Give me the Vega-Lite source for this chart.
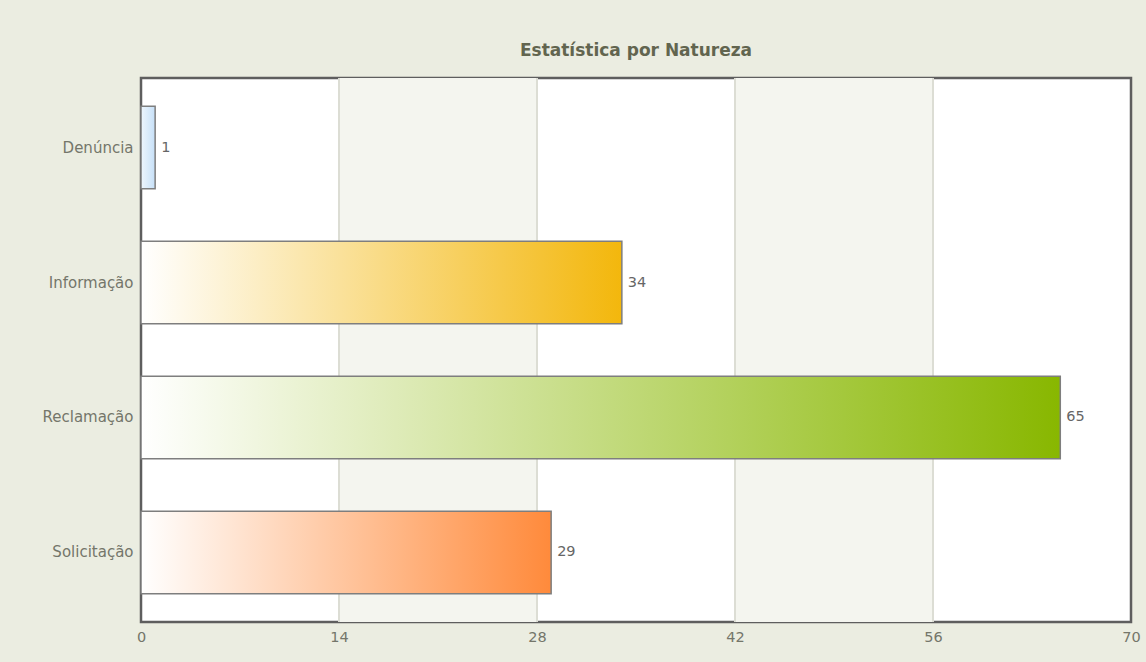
{
  "$schema": "https://vega.github.io/schema/vega-lite/v6.json",
  "width": 990,
  "height": 544,
  "autosize": {"type": "none"},
  "padding": {"left": 141, "top": 78, "right": 15, "bottom": 40},
  "background": "#ebede1",
  "title": {
    "text": "Estatística por Natureza",
    "font": "DejaVu Sans",
    "fontSize": 17,
    "fontWeight": "bold",
    "color": "#62654f",
    "anchor": "middle",
    "offset": 17
  },
  "datasets": {
    "bars": [
      {"natureza": "Denúncia", "total": 1},
      {"natureza": "Informação", "total": 34},
      {"natureza": "Reclamação", "total": 65},
      {"natureza": "Solicitação", "total": 29}
    ],
    "bands": [
      {"x0": 14, "x1": 28},
      {"x0": 42, "x1": 56}
    ]
  },
  "config": {
    "view": {"stroke": "#5e5e5e", "strokeWidth": 2.5, "fill": "#ffffff"},
    "axis": {"labelFont": "DejaVu Sans", "labelColor": "#74766a", "domain": false, "ticks": false, "grid": false, "title": null}
  },
  "layer": [
    {
      "data": {"name": "bands"},
      "mark": {"type": "rect", "fill": "#f4f5ef"},
      "encoding": {
        "x": {"field": "x0", "type": "quantitative", "scale": {"domain": [0, 70], "nice": false}, "axis": {"values": [0, 14, 28, 42, 56, 70], "labelFontSize": 14.5, "labelPadding": 8, "labelFlush": false}},
        "x2": {"field": "x1"}
      }
    },
    {
      "data": {"name": "bands"},
      "mark": {"type": "rule", "stroke": "#dcddd4", "strokeWidth": 2},
      "encoding": {"x": {"field": "x0", "type": "quantitative"}}
    },
    {
      "data": {"name": "bands"},
      "mark": {"type": "rule", "stroke": "#dcddd4", "strokeWidth": 2},
      "encoding": {"x": {"field": "x1", "type": "quantitative"}}
    },
    {
      "data": {"name": "bars"},
      "encoding": {
        "y": {"field": "natureza", "type": "nominal", "sort": null, "scale": {"paddingInner": 0.39, "paddingOuter": 0.21}, "axis": {"labelFontSize": 15, "labelPadding": 8}},
        "x": {"field": "total", "type": "quantitative"}
      },
      "layer": [
        {
          "transform": [{"filter": "datum.natureza === 'Denúncia'"}],
          "mark": {"type": "bar", "stroke": "#7e7e7e", "strokeWidth": 1.5,
            "color": {"gradient": "linear", "x1": 0, "x2": 1, "y1": 0, "y2": 0, "stops": [{"offset": 0, "color": "#eef6fd"}, {"offset": 1, "color": "#c6e0f8"}]}}
        },
        {
          "transform": [{"filter": "datum.natureza === 'Informação'"}],
          "mark": {"type": "bar", "stroke": "#7e7e7e", "strokeWidth": 1.5,
            "color": {"gradient": "linear", "x1": 0, "x2": 1, "y1": 0, "y2": 0, "stops": [{"offset": 0, "color": "#ffffff"}, {"offset": 1, "color": "#f3b70c"}]}}
        },
        {
          "transform": [{"filter": "datum.natureza === 'Reclamação'"}],
          "mark": {"type": "bar", "stroke": "#7e7e7e", "strokeWidth": 1.5,
            "color": {"gradient": "linear", "x1": 0, "x2": 1, "y1": 0, "y2": 0, "stops": [{"offset": 0, "color": "#ffffff"}, {"offset": 1, "color": "#88b700"}]}}
        },
        {
          "transform": [{"filter": "datum.natureza === 'Solicitação'"}],
          "mark": {"type": "bar", "stroke": "#7e7e7e", "strokeWidth": 1.5,
            "color": {"gradient": "linear", "x1": 0, "x2": 1, "y1": 0, "y2": 0, "stops": [{"offset": 0, "color": "#ffffff"}, {"offset": 1, "color": "#ff8a3b"}]}}
        },
        {
          "mark": {"type": "text", "align": "left", "dx": 6, "font": "DejaVu Sans", "fontSize": 14.5, "color": "#666666"},
          "encoding": {"text": {"field": "total", "type": "quantitative"}}
        }
      ]
    }
  ]
}
